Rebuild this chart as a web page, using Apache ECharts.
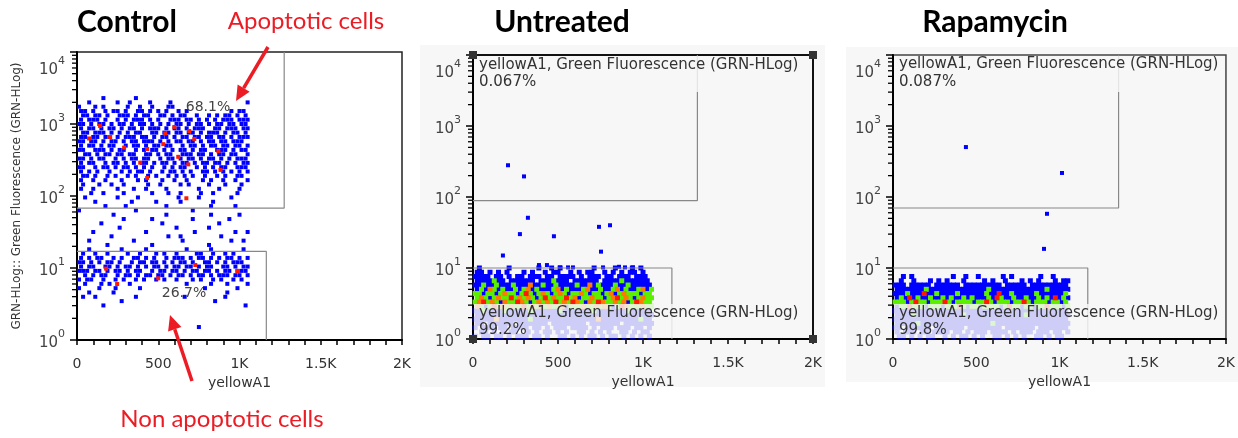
<!DOCTYPE html>
<html>
<head>
<meta charset="utf-8">
<script src="https://cdn.jsdelivr.net/npm/echarts@6/dist/echarts.min.js"></script>
<style>
  html, body { margin: 0; padding: 0; background: #fff; }
  #chart { width: 1238px; height: 438px; }
</style>
</head>
<body>
<div id="chart"></div>
<script>
// axis ticks
const xTickValues = [0, 500, 1000, 1500, 2000];
const xTickLabels = ['0', '500', '1K', '1.5K', '2K'];
const yMinor = [2, 3, 4, 5, 6, 7, 8, 9, 20, 30, 40, 50, 60, 70, 80, 90,
  200, 300, 400, 500, 600, 700, 800, 900, 2000, 3000, 4000, 5000, 6000, 7000, 8000, 9000];

// event bins: column = 25 units of yellowA1, row = 0.06 decade of GRN-HLog
// odd rows sit half a column to the right
const binWidth = 25;
const binLog = 0.06;

// Control: b = blue event (top row at 10^3.36)
const controlTopLog = 3.36;
const controlBins = [
  '......b.......b...........................',
  '..b......b..b....b....b..................b',
  'b...b.b.....b..b..b...bb.................',
  'bb.b..b.bb.b..bb.b.b.b..b.b..........b.bb.',
  '.bb.bb.b..bbb.b.bb..bb.b.bb..b..b.b.bb.b.b',
  'b.bbb.b..b.b.bbb.b.b..bbb.bb.b.b.b.bbb.bbb',
  'bb.b.bb.b.bb.b.bb.b.b.b.bb.b.bb.b.bb.bb.bb',
  'b.bb.b.bb.b.bb.b.bbb.b.bb.b.bbb..bb.bbb.bb',
  '.bb.bbb.b.b.b.bb..bb.bb.bb.bb.b.bbb.b.bb.b',
  'bb.bb.bb.b.bbb.bb.b.bb.b.bb.bb.bb.bb.b.bbb',
  'bb.bb.b.bb.b.bb.bbb.b.b.bb.bb.b.bb.bb.bbb.',
  'b.bb.b.bb..b.bb.b.bb.bb..b.bb.b.bb.bb.bb.b',
  'bb..bbb.b.bb..b.b.bb.b.b.bb.b.bb..bbb.b.bb',
  '.bb.b.bb.bb.bb..bb.b.bb..bbb.bb.b.bb.bb..b',
  'bb.b.bb..b.b.bb.bb..b.bb.b.bb.b.bb.b.b.bbb',
  'b.bb..b.bb.b.b.bb.b.bb.b.bb.b.bb.bb.b.b.bb',
  'bb..b.bb.b.bb.b.b.b..b.b.bb..b.b.b.bb..bbb',
  'b.b.b..b..b.b.bb.b..b.bb.b.b..bb.b.b.b.b.b',
  '.bb.b..b.b..b.b..b.b..b.b.b.b..b..b.b..bb.',
  'b..b..b...b...b.b...b..b..b...b.b..b..b..b',
  '.b...b..b..b.....b..b....b.b....b...b...b.',
  'b..b.....b...b..b....b.......b....b....b..',
  '...b..b....b......b...b..b....b..b.....b..',
  '.b.......b....b.........b....b.......b....',
  '....b........b.....b.....b.......b........',
  '......b....b.........b..........b.....b...',
  'b.............b.............b.............',
  '........b............b..........b......b..',
  '...........b......b.........b........b....',
  '.....b..............b.............b.......',
  '..........b.............b.......b.........',
  '...b............b...........b.........b..b',
  '........b.............b..b.........b......',
  '..b..........b...........b...........b..b.',
  '.......b..........b.............b.........',
  '..b.......b.....b.........b.....b.......b.',
  '.b..b..b....b..b...b.b..b....bb..b..b.b...',
  'b.b.bb..b.b..bb.b.b..b.bbb.b.bb.b.b.bb.b.b',
  'bb.b.b.bb.b..b.bb.bb.b.b.bb.b..bb.b.b.bbb.',
  'b.bb..bb.b.bb.b.b.bb.b.bb.bb.b.bb..bb.b.bb',
  'bbb.bb.b.bb.b.bb..b.bb.bb.b.bb.bb.b.bb.bbb',
  '.b.b.bb..b.bb.b.bb.bb.b.bb.b.bb.b.bbb.bb.b',
  'b.bb..b..b.b..b.b..b.b..b...b.b..b.b..b.b.',
  '.b...b.b....b.............b.....b...b....b',
  'b....b...b.....b...............b.......b..',
  '..b.....b...........................b.....',
  '.b..b.........b...........b.........b.....',
  '..........b......................b........',
  '......b..................................b',
  '..........................................',
  '..........................................',
  '..........................................',
  '..........................................',
  '.............................b............'
];
const controlRed = [[142, 940], [74, 630], [204, 660], [290, 470], [432, 450], [389, 290],
  [531, 525], [543, 740], [599, 910], [691, 800], [722, 620], [623, 350], [685, 275],
  [870, 420], [883, 230], [432, 178], [673, 93], [179, 9.8], [247, 6], [500, 7.2],
  [728, 11], [988, 9.1]];

// Untreated: b blue, g green, o orange, r red (top row at 10^1.00)
const untreatedTopLog = 1.0;
const untreatedBins = [
  '.b......b......b..b.b.......b....b...b.b..',
  'bb.b.b.b...b.b..b.bb..b.b.bb..b.b.b.bb.b..',
  'bbbb.bb.b.bb.bbb.bb.bbbb.b.bbb.bb.bbb.bbb.',
  'bbbbgbb.bbbbbb.bbbgbbb.bbbbbb.bbbbgbbbbbb.',
  'bbgbbgbbbgbbbobbgbbgbbbbgbbobgbbbgbbgbbbbb',
  'bgbogbgbbgbgobgbbbgobgbbbgobbgbbgobgbbgobg',
  'ggbggbgoggbgrgbgogbgogbggogbggbgobgogggbgg',
  'gogbgoggrgogogbgrgoggrgobggoggbgorgogbgogg',
  'gorgogboggrogbgogogrgogrogbogroggogobgrogg',
  'ogbgrgogoggrgogrgoggobgggoggogogbgrogggogg',
  'bbgbbbbgbbbbbgbbbbbbgbbbbbbbgbbbbbbbgbbbbb',
  'bbbbbbbbbbbbbbbbbbbbbbbbbbbbbbbbbbbbbbbbbb',
  'bbbbbobbbbbbbgbbbbbbbbbbbbbbbobbbbbbbbbgbb',
  'bb.bbbbbb.bbbbbbb.bbbbbbbb.bbbbbbb.bbbbbbb',
  'b.bbb.bb.bbbb.bb.b.bbb.bbbb.b.bbb.bbb.bb.b',
  '.bb.b.b.bb..b.b.bb.b.b..bb.b.b.b..bb.b.bb.',
  'b.bb.bb.b.bbb.bb.b..bb.b.b.bb.b.bb.b.b.b.b'
];
const untreatedOutliers = [[206, 280], [300, 195], [323, 51], [276, 30], [476, 28], [741, 38],
  [806, 40], [176, 15], [753, 17], [388, 11], [435, 11], [512, 10.2], [559, 10.2],
  [588, 10.2], [765, 10.2], [859, 10.4], [894, 10.2], [941, 10.2]];

// Rapamycin (top row at 10^0.88)
const rapaTopLog = 0.88;
const rapaBins = [
  '..b.b.........b..b..b.....b.b......b..b...',
  '.b..b...b.b.b...b....b.b..b...b.b.b...b.bb',
  'bbb.bbbbb.bbbbbb.bbbbbbbbb.bbbbb.bbbbbbbbb',
  'bbbbbbbgbbbbbbbbbbbbbbgbbbbbbbbbbbbbgbbbbb',
  'bbbgbbbrbbgbbbbgbbbbbbgbbrbbgbbbbbgbbbbbbg',
  'bgbrbgbbgbbgbgbbgbgbbbgbrgbbgbbgbbgbgbrbgb',
  'gggbgrggbgggrgbggggbggrgbgggbggrgbgggbggbg',
  'bggrgggbgggbgggrgbggbggggbgrggbggbggrgggbg',
  'bbbbbbbbbbbbbbbbbbbbbbbbbbbbbbbbbbbbbbbbbb',
  'bbbbgbbbbbbbbbbbgbbbbbbbbbbbbbbgbbbbbbbbbb',
  'bbbbbbbbbbbbbbbbbbbbbbbbbbbbbbbbbbbbbbbbbb',
  'bbbbbgbbbbbbbbbbbbbbbbbgbbbbbbbbbbbbbbbbbb',
  'bb.bbbbbb.bbbbbbb.bbbbbbbb.bbbbbbb.bbbbbbb',
  'b.bbb.bb.bbbb.bb.b.bbb.bbbb.b.bbb.bbb.bb.b',
  '.bb.b.b.bb..b.b.bb.b.b..bb.b.b.b..bb.b.bb.'
];
const rapaOutliers = [[438, 505], [1015, 218], [925, 58], [907, 18.6]];

// gates (yellowA1, GRN-HLog)
const controlGateUpper = [[0, 68], [1275, 68], [1275, 10000]];
const controlGateLower = [[0, 17], [1165, 17], [1165, 1]];
const untreatedGateUpper = [[0, 89], [1320, 89], [1320, 10000]];
const untreatedGateLower = [[0, 10], [1170, 10], [1170, 1]];
const rapaGateUpper = [[0, 70], [1355, 70], [1355, 10000]];
const rapaGateLower = [[0, 10], [1170, 10], [1170, 1]];

const gateText = 'yellowA1, Green Fluorescence (GRN-HLog)';
const untreatedPct = ['0.067%', '99.2%'];
const rapaPct = ['0.087%', '99.8%'];
const controlPct = ['68.1%', '26.7%'];

const colors = { b: '#0000ff', g: '#5cf000', o: '#ff7a00', r: '#ff1a00' };
const FONT = 'DejaVu Sans';

// the y axis is a GRN-HLog axis: positions are log10 of the fluorescence
const lg = (pts) => pts.map(([x, y]) => [x, Math.log10(y)]);

const binPoints = (rows, topLog, code) => {
  const out = [];
  rows.forEach((row, r) => {
    const shift = (r % 2) * binWidth / 2;
    for (let i = 0; i < row.length; i++) {
      if (row[i] === code) out.push([i * binWidth + binWidth / 2 + shift, topLog - r * binLog]);
    }
  });
  return out;
};

const yLabel = (v) => {
  const e = Math.round(v);
  if (e === 4) return '{gap| }\n{b|10}{s|4}';
  return '{b|10}{s|' + e + '}';
};

const grids = [
  { left: 77, top: 52, width: 325, height: 288, show: true, backgroundColor: '#fff', borderColor: '#222', borderWidth: 1.5 },
  { left: 473, top: 55, width: 340, height: 284, show: true, backgroundColor: 'transparent', borderColor: '#111', borderWidth: 2 },
  { left: 893, top: 55, width: 333, height: 284, show: true, backgroundColor: 'transparent', borderColor: '#444', borderWidth: 1.5 }
];

const xAxes = grids.map((g, p) => ({
  gridIndex: p, type: 'value', min: 0, max: 2000, interval: 100,
  axisLine: { show: true, onZero: false, lineStyle: { color: '#000', width: 2 } },
  axisTick: { show: true, length: 5, lineStyle: { color: '#000', width: 1.5 } },
  axisLabel: {
    margin: 17, color: '#333', fontSize: 14, fontFamily: FONT,
    formatter: v => { const k = xTickValues.indexOf(v); return k >= 0 ? xTickLabels[k] : ''; }
  },
  splitLine: { show: false },
  name: 'yellowA1', nameLocation: 'middle', nameGap: 29,
  nameTextStyle: { color: '#333', fontSize: 14, fontFamily: FONT }
}));

const yAxes = grids.map((g, p) => ({
  gridIndex: p, type: 'value', min: 0, max: 4, interval: 1,
  axisLine: { show: true, onZero: false, lineStyle: { color: '#000', width: 2 } },
  axisTick: { show: true, length: 7, lineStyle: { color: '#000', width: 1.5 } },
  axisLabel: {
    margin: 12, formatter: yLabel,
    rich: {
      b: { fontSize: 15, color: '#444', fontFamily: FONT, lineHeight: 22, verticalAlign: 'bottom' },
      s: { fontSize: 11, color: '#444', fontFamily: FONT, lineHeight: 22, verticalAlign: 'top' },
      gap: { fontSize: 2, lineHeight: 30 }
    }
  },
  splitLine: { show: false },
  name: p === 0 ? 'GRN-HLog:: Green Fluorescence (GRN-HLog)' : '',
  nameLocation: 'middle', nameGap: 54,
  nameTextStyle: { color: '#333', fontSize: 12, fontFamily: FONT }
}));

const series = [];
const addScatter = (p, data, color, size) => {
  series.push({
    type: 'scatter', xAxisIndex: p, yAxisIndex: p, data,
    symbol: 'rect', symbolSize: size, silent: true, animation: false,
    itemStyle: { color, opacity: 1 }
  });
};
const addGate = (p, data) => {
  series.push({
    type: 'line', xAxisIndex: p, yAxisIndex: p, data: lg(data),
    symbol: 'none', silent: true, animation: false, z: 3,
    lineStyle: { color: '#888', width: 1.2 }
  });
};

addScatter(0, binPoints(controlBins, controlTopLog, 'b'), colors.b, 4);
addScatter(0, lg(controlRed), colors.r, 4);
['b', 'g', 'o', 'r'].forEach(c => addScatter(1, binPoints(untreatedBins, untreatedTopLog, c), colors[c], 5));
addScatter(1, lg(untreatedOutliers), colors.b, 4);
['b', 'g', 'o', 'r'].forEach(c => addScatter(2, binPoints(rapaBins, rapaTopLog, c), colors[c], 5));
addScatter(2, lg(rapaOutliers), colors.b, 4);
addGate(0, controlGateUpper);
addGate(0, controlGateLower);
addGate(1, untreatedGateUpper);
addGate(1, untreatedGateLower);
addGate(2, rapaGateUpper);
addGate(2, rapaGateLower);

// short log ticks at 2..9 of each decade, hung off the y axis line
grids.forEach((g, p) => series.push({
  type: 'custom', xAxisIndex: p, yAxisIndex: p, silent: true, animation: false, clip: false, z: 4,
  data: yMinor.map(v => [0, Math.log10(v)]),
  renderItem: (params, api) => {
    const c = api.coord([api.value(0), api.value(1)]);
    return {
      type: 'line',
      shape: { x1: c[0] - 5, y1: c[1], x2: c[0], y2: c[1] },
      style: { stroke: '#000', lineWidth: 1.3 }
    };
  }
}));

// annotations
const RED = '#ec1c24';
const txt = (text, x, y, size, opts = {}) => ({
  type: 'text', z: 20,
  style: Object.assign({
    text, x, y, fontSize: size, fontFamily: FONT, fill: '#333',
    align: 'left', verticalAlign: 'middle'
  }, opts)
});
const arrow = (x1, y1, x2, y2) => {
  const len = Math.hypot(x2 - x1, y2 - y1);
  const dx = (x2 - x1) / len, dy = (y2 - y1) / len;
  const bx = x2 - dx * 15, by = y2 - dy * 15;
  return [
    { type: 'line', z: 20, shape: { x1, y1, x2: bx, y2: by }, style: { stroke: RED, lineWidth: 3.5 } },
    { type: 'polygon', z: 20, shape: { points: [[x2, y2], [bx - dy * 7, by + dx * 7], [bx + dy * 7, by - dx * 7]] }, style: { fill: RED } }
  ];
};
const box = (x, y, w, h) => ({
  type: 'rect', z: 15, shape: { x, y, width: w, height: h },
  style: { fill: 'rgba(247,247,247,0.83)' }
});
const corner = (x, y) => ({ type: 'rect', z: 16, shape: { x: x - 4, y: y - 4, width: 8, height: 8 }, style: { fill: '#333' } });

const graphic = [
  { type: 'rect', z: -1, shape: { x: 420, y: 45, width: 405, height: 342 }, style: { fill: '#f7f7f7' } },
  { type: 'rect', z: -1, shape: { x: 846, y: 47, width: 392, height: 335 }, style: { fill: '#f7f7f7' } },
  txt('Control', 127, 22, 30, { fontFamily: 'Lato', fontWeight: 'bold', fill: '#000', align: 'center' }),
  txt('Untreated', 562, 22, 30, { fontFamily: 'Lato', fontWeight: 'bold', fill: '#000', align: 'center' }),
  txt('Rapamycin', 995, 22, 30, { fontFamily: 'Lato', fontWeight: 'bold', fill: '#000', align: 'center' }),
  txt('Apoptotic cells', 306, 21, 24, { fontFamily: 'Lato', fill: RED, align: 'center' }),
  txt('Non apoptotic cells', 222, 419, 24, { fontFamily: 'Lato', fill: RED, align: 'center' }),
  ...arrow(268, 47, 236, 101),
  ...arrow(192, 381, 170, 315),
  txt(controlPct[0], 208, 107, 14, { fill: '#444', align: 'center' }),
  txt(controlPct[1], 184, 293, 14, { fill: '#444', align: 'center' }),
  box(474, 56, 334, 36),
  txt(gateText, 479, 65, 15),
  txt(untreatedPct[0], 479, 82, 15),
  box(474, 304, 334, 34),
  txt(gateText, 479, 313, 15),
  txt(untreatedPct[1], 479, 330, 15),
  box(894, 56, 328, 36),
  txt(gateText, 899, 64, 15),
  txt(rapaPct[0], 899, 82, 15),
  box(894, 304, 328, 34),
  txt(gateText, 899, 313, 15),
  txt(rapaPct[1], 899, 330, 15),
  corner(473, 55), corner(813, 55), corner(473, 339), corner(813, 339)
];

const chart = echarts.init(document.getElementById('chart'));
chart.setOption({
  backgroundColor: '#fff',
  animation: false,
  grid: grids,
  xAxis: xAxes,
  yAxis: yAxes,
  series,
  graphic
});
</script>
</body>
</html>
